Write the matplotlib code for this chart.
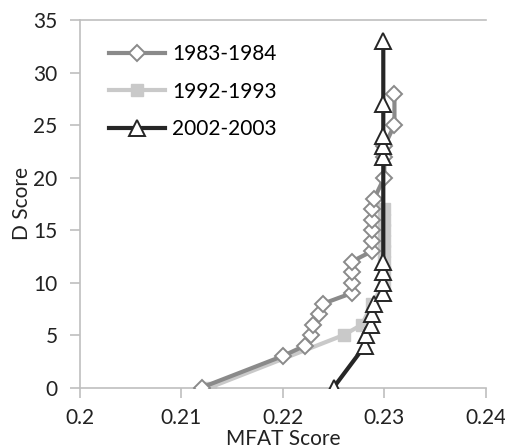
import matplotlib
matplotlib.use("Agg")
import matplotlib.pyplot as plt

plt.rcParams['font.family'] = ['Lato', 'DejaVu Sans']

# 1983-1984
d_83 = [0, 3, 4, 5, 6, 7, 8, 9, 10, 11, 12, 13, 14, 15, 16, 17, 18, 20, 22, 23, 25, 28]
m_83 = [0.2120, 0.2200, 0.2222, 0.2228, 0.2230, 0.2236, 0.2240, 0.2268, 0.2268, 0.2268,
        0.2268, 0.2288, 0.2288, 0.2288, 0.2288, 0.2288, 0.2290, 0.2300, 0.2300, 0.2300,
        0.2310, 0.2310]
# 1992-1993
d_92 = [0, 5, 6, 8, 10, 11, 12, 13, 14, 15, 16, 17]
m_92 = [0.2128, 0.2260, 0.2278, 0.2288, 0.2300, 0.2300, 0.2300, 0.2300, 0.2300, 0.2300,
        0.2300, 0.2300]
# 2002-2003
d_02 = [0, 4, 5, 6, 7, 8, 9, 10, 11, 12, 22, 23, 24, 27, 33]
m_02 = [0.2250, 0.2281, 0.2282, 0.2287, 0.2288, 0.2290, 0.2299, 0.2299, 0.2299, 0.2299,
        0.2299, 0.2299, 0.2299, 0.2299, 0.2299]

labels = ['1983-1984', '1992-1993', '2002-2003']
xticks = [0.2, 0.21, 0.22, 0.23, 0.24]
xtick_labels = ['0.2', '0.21', '0.22', '0.23', '0.24']
yticks = [0, 5, 10, 15, 20, 25, 30, 35]

fig = plt.figure(figsize=(5.06, 4.48), dpi=100)
ax = fig.add_axes([0.158, 0.135, 0.802, 0.82])

c83, c92, c02 = '#8a8a8a', '#c9c9c9', '#262626'
ax.plot(m_83, d_83, color=c83, lw=3.0, marker='D', ms=8.5, mfc='white', mec=c83, mew=1.4,
        label=labels[0], zorder=3)
ax.plot(m_92, d_92, color=c92, lw=3.0, marker='s', ms=9, mfc=c92, mec=c92,
        label=labels[1], zorder=2)
ax.plot(m_02, d_02, color=c02, lw=3.0, marker='^', ms=11, mfc='white', mec=c02, mew=1.4,
        label=labels[2], zorder=4)

ax.set_xlim(0.2, 0.24)
ax.set_ylim(0, 35)
ax.set_xticks(xticks)
ax.set_xticklabels(xtick_labels)
ax.set_yticks(yticks)

ax.spines['right'].set_visible(False)
for s in ['left', 'bottom', 'top']:
    ax.spines[s].set_color('#bfbfbf')
    ax.spines[s].set_linewidth(1.2)
ax.tick_params(axis='both', colors='#bfbfbf', labelcolor='#222222', labelsize=15,
               length=7, width=1.2, direction='out')
ax.tick_params(axis='x', pad=8)
ax.tick_params(axis='y', pad=9)

ax.set_xlabel('MFAT Score', fontsize=15, color='#222222')
ax.xaxis.set_label_coords(0.5, -0.112)
ax.set_ylabel('D Score', fontsize=15, color='#222222')
ax.yaxis.set_label_coords(-0.118, 0.5)

ax.legend(loc='upper left', bbox_to_anchor=(0.035, 0.975), frameon=False, fontsize=15,
          handlelength=2.7, handletextpad=0.35, labelspacing=0.85, borderaxespad=0.3)

fig.savefig('out.png', dpi=100)
